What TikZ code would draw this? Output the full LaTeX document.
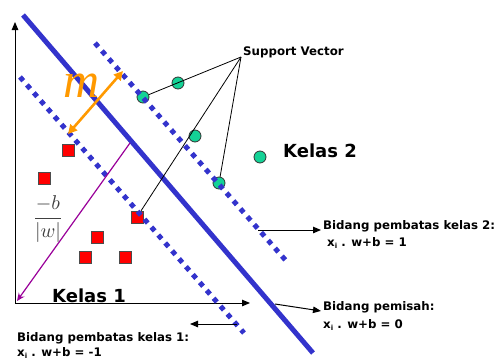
\documentclass[tikz,border=0pt]{standalone}
\usepackage{fontspec}
\setmainfont{DejaVu Sans}
\newfontfamily\serifit{Liberation Serif}
\usetikzlibrary{arrows.meta}
\definecolor{blueL}{RGB}{51,51,204}
\definecolor{greenC}{RGB}{20,210,150}
\definecolor{orangeM}{RGB}{255,153,0}
\definecolor{purpleA}{RGB}{153,0,153}
\newcommand{\xsub}{x{\fontsize{7}{7}\selectfont\raisebox{-1.5pt}{i}}}
\begin{document}
\begin{tikzpicture}[x=1pt,y=-1pt,
  lbl/.style={font=\bfseries\fontsize{11.8}{13}\selectfont, inner sep=0pt, anchor=west},
  big/.style={font=\bfseries\fontsize{18}{20}\selectfont, inner sep=0pt, anchor=west},
  sq/.style={draw=black!70, fill=red, minimum size=12pt, inner sep=0pt, line width=0.6pt},
  ci/.style={draw=black!80, fill=greenC, circle, minimum size=12pt, inner sep=0pt, line width=0.8pt},
  dotline/.style={blueL, line width=5pt, dash pattern=on 5pt off 5.5pt},
  solidline/.style={blueL, line width=5pt},
  arr/.style={-{Triangle[length=8pt,width=6.5pt]}, line width=1pt},
  thinl/.style={line width=0.8pt}]
\useasboundingbox (0,0) rectangle (497,359);
% axes
\coordinate (O) at (15,303);
\coordinate (Ytop) at (15,22);
\coordinate (Xend) at (250,303);
\draw[arr] (O) -- (Ytop);
\draw[arr] (O) -- (Xend);
% class 1 squares
\node[sq] (r1) at (68,150) {};
\node[sq] (r2) at (44,178) {};
\node[sq] (r3) at (137,217) {};
\node[sq] (r4) at (97,237) {};
\node[sq] (r5) at (85,257) {};
\node[sq] (r6) at (125,257) {};
% class 2 circles
\node[ci] (c1) at (143,97) {};
\node[ci] (c2) at (178,83) {};
\node[ci] (c3) at (195,136) {};
\node[ci] (c4) at (219,183) {};
\node[ci] (c5) at (260,157) {};
% lines
\coordinate (s1) at (23,15); \coordinate (s2) at (313,353);
\coordinate (u1) at (95,43); \coordinate (u2) at (288,263);
\coordinate (l1) at (20,77); \coordinate (l2) at (244,333);
\draw[solidline] (s1) -- (s2);
\draw[dotline] (u1) -- (u2);
\draw[dotline] (l1) -- (l2);
% margin
\coordinate (m1) at (68,134); \coordinate (m2) at (123,71);
\draw[orangeM, line width=2.6pt, {Triangle[length=9pt,width=9pt]}-{Triangle[length=9pt,width=9pt]}] (m1) -- (m2);
\node[orangeM, inner sep=0pt, font=\serifit\itshape\fontsize{50}{50}\selectfont] (mlab) at (82,86) {m};
% -b/|w|
\coordinate (p1) at (130,143); \coordinate (p2) at (17,301);
\draw[purpleA, line width=1.2pt, -{Stealth[length=8pt,width=7pt]}] (p1) -- (p2);
\node[black!75, scale=2.0, inner sep=0pt] (frac) at (48,219) {$\displaystyle\frac{-b}{|w|}$};
% support vector
\node[lbl] (sv) at (243,52) {Support Vector};
\coordinate (svp) at (241,57);
\draw[thinl] (svp) -- (c1);
\draw[thinl] (svp) -- (r3);
\draw[thinl] (svp) -- (c4);
% class labels
\node[big] (k1) at (52,296) {Kelas 1};
\node[big] (k2) at (283,151) {Kelas 2};
% annotations
\coordinate (a2s) at (258,230); \coordinate (a2e) at (321,230);
\draw[arr] (a2s) -- (a2e);
\node[lbl] (b2) at (323,226) {Bidang pembatas kelas 2:};
\node[lbl] (e2) at (327,243) {\xsub{} . w+b = 1};
\coordinate (a0s) at (275,304); \coordinate (a0e) at (321,311);
\draw[arr] (a0s) -- (a0e);
\node[lbl] (b0) at (323,307) {Bidang pemisah:};
\node[lbl] (e0) at (323,325) {\xsub{} . w+b = 0};
\coordinate (a1s) at (237,324); \coordinate (a1e) at (190,324);
\draw[arr] (a1s) -- (a1e);
\node[lbl] (b1) at (17,338) {Bidang pembatas kelas 1:};
\node[lbl] (e1) at (17,353) {\xsub{} . w+b = -1};
\end{tikzpicture}
\end{document}
